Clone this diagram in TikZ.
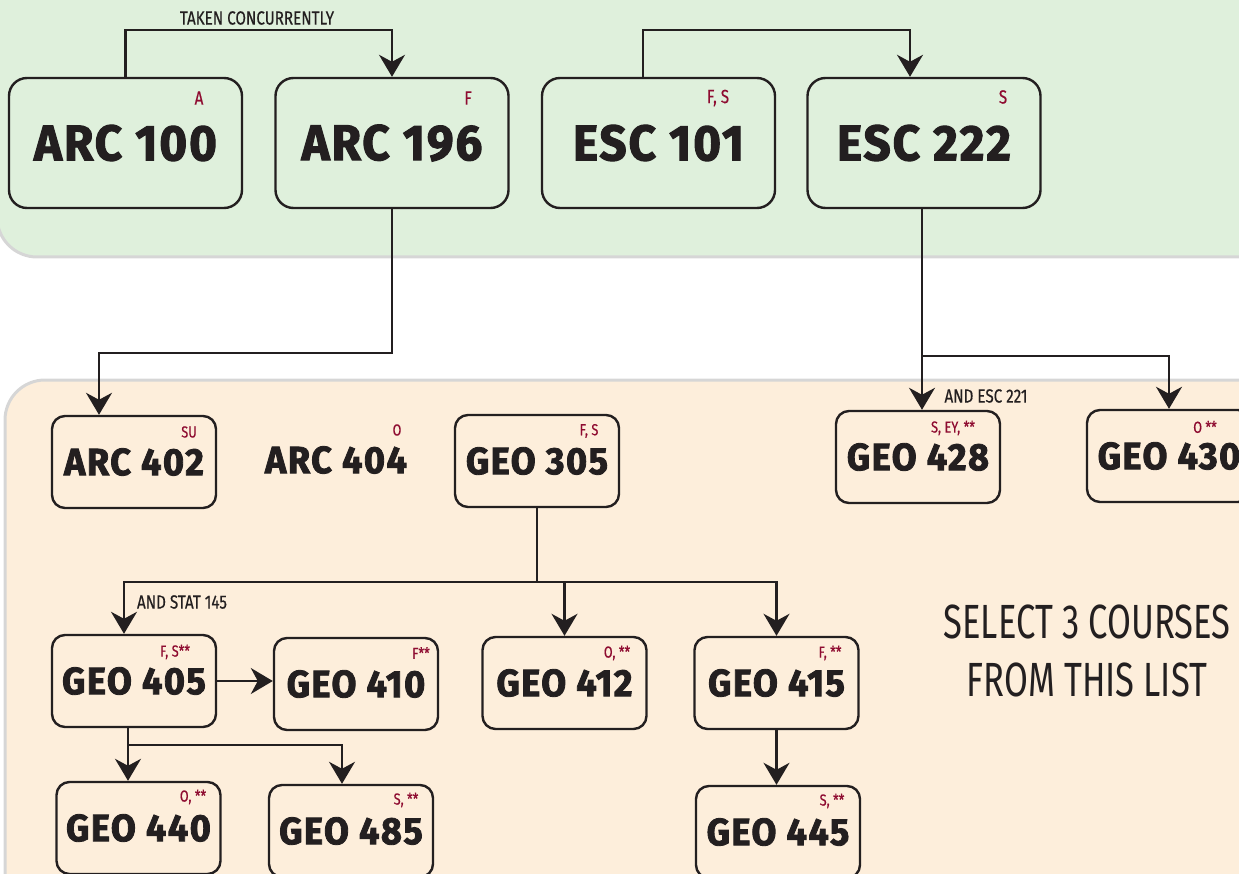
\documentclass[tikz,border=0pt]{standalone}
\usepackage{fontspec}
\newfontfamily\coursefont{Fira Sans}[FakeStretch=0.95, LetterSpace=4, BoldFeatures={FakeBold=2.2}]
\newfontfamily\notefont{Fira Sans}[FakeStretch=0.8, FakeBold=0.4]
\newfontfamily\listfont{Fira Sans}[FakeStretch=0.72]
\usetikzlibrary{arrows.meta}

\definecolor{panelgreen}{HTML}{DFF0DC}
\definecolor{panelorange}{HTML}{FDEEDB}
\definecolor{panelrim}{HTML}{D6D6D6}
\definecolor{termred}{HTML}{8E0B30}
\definecolor{ink}{HTML}{231F20}

\tikzset{
  bigcourse/.style={rectangle,
    draw = ink,
    line width = 2.4pt,
    rounded corners = 18pt,
    minimum width = 233pt,
    minimum height = 130pt,
    inner sep = 0pt,
    text = ink,
    font = \coursefont\bfseries\fontsize{50}{50}\selectfont},
  course/.style={rectangle,
    draw = ink,
    line width = 2.4pt,
    rounded corners = 13pt,
    minimum width = 164pt,
    minimum height = 92pt,
    inner sep = 0pt,
    text = ink,
    font = \coursefont\bfseries\fontsize{38}{38}\selectfont},
  term/.style={inner sep = 0pt, text = termred,
    font = \notefont\fontsize{16}{16}\selectfont},
  bigterm/.style={term, font = \notefont\fontsize{19}{19}\selectfont},
  note/.style={inner sep = 0pt, text = ink,
    font = \notefont\fontsize{19}{19}\selectfont},
  link/.style={draw = ink, line width = 2.2pt}
}

\begin{document}
\begin{tikzpicture}[x=1pt, y=-1pt, >={Stealth[length=22pt, width=26pt, inset=7pt]}]

  \useasboundingbox (0,0) rectangle (1239,874);

  % panels
  \path[fill = panelgreen, draw = panelrim, line width = 3pt, rounded corners = 40pt]
    (-3,-60) rectangle (1300,257);
  \path[fill = panelorange, draw = panelrim, line width = 3pt, rounded corners = 40pt]
    (5,380) rectangle (1300,950);

  % first year
  \node[bigcourse] (arc100) at (125.5,143) {ARC 100};
  \node[bigterm] (t100) at (199,98) {A};

  \node[bigcourse] (arc196) at (392,143) {ARC 196};
  \node[bigterm] (t196) at (468,98) {F};

  \node[bigcourse] (esc101) at (658.5,143) {ESC 101};
  \node[bigterm] (t101) at (718,98) {F, S};

  \node[bigcourse] (esc222) at (924,143) {ESC 222};
  \node[bigterm] (t222) at (1003,97) {S};

  \node[note] (taken) at (257,18) {TAKEN CONCURRENTLY};

  % electives
  \node[course] (arc402) at (134,462) {ARC 402};
  \node[term] (t402) at (189,432) {SU};

  \node[course, draw = none] (arc404) at (336,460) {ARC 404};
  \node[term] (t404) at (397,430) {O};

  \node[course] (geo305) at (537,461) {GEO 305};
  \node[term] (t305) at (589,431) {F, S};

  \node[course] (geo428) at (918,457) {GEO 428};
  \node[term] (t428) at (953,428) {S, EY, **};

  \node[course] (geo430) at (1169,456) {GEO 430};
  \node[term] (t430) at (1205,427) {O **};

  \node[course] (geo405) at (134,681) {GEO 405};
  \node[term] (t405) at (175,652) {F, S**};

  \node[course] (geo410) at (356,684) {GEO 410};
  \node[term] (t410) at (421,653) {F**};

  \node[course] (geo412) at (564.5,683) {GEO 412};
  \node[term] (t412) at (617,653) {O, **};

  \node[course] (geo415) at (776.5,683) {GEO 415};
  \node[term] (t415) at (830,653) {F, **};

  \node[course] (geo440) at (138.5,828) {GEO 440};
  \node[term] (t440) at (193,797) {O, **};

  \node[course] (geo485) at (351,831) {GEO 485};
  \node[term] (t485) at (406,800) {S, **};

  \node[course] (geo445) at (778,832) {GEO 445};
  \node[term] (t445) at (832,801) {S, **};

  \node[note] (andstat) at (182,602) {AND STAT 145};
  \node[note] (andesc) at (986,396) {AND ESC 221};

  \node[note, align = center, font = \listfont\fontsize{48}{58}\selectfont]
    (select) at (1087,651) {SELECT 3 COURSES\\FROM THIS LIST};

  % prerequisites
  \draw[link,->] (arc100.north) -- ++(0,-47) -| (arc196.north);
  \draw[link,->] ([xshift=-15.5pt]esc101.north) -- ++(0,-47) -| ([xshift=-14pt]esc222.north);
  \draw[link,->] (arc196.south) -- ++(0,144) -| ([xshift=-35pt]arc402.north);

  \draw[link] ([xshift=-2pt]esc222.south) -- ++(0,147) coordinate (fork222);
  \draw[link,->] (fork222) -- ([xshift=4pt]geo428.north);
  \draw[link,->] (fork222) -| (geo430.north);

  \draw[link] (geo305.south) -- ++(0,74) coordinate (fork305);
  \draw[link,->] (fork305) -| ([xshift=-10pt]geo405.north);
  \draw[link,->] (fork305) -| (geo412.north);
  \draw[link,->] (fork305) -| (geo415.north);

  \draw[link,->] (geo405.east) -- (geo405.east -| geo410.west);
  \draw[link] ([xshift=-6pt]geo405.south) -- ++(0,17) coordinate (fork405);
  \draw[link,->] (fork405) -- (fork405 |- geo440.north);
  \draw[link,->] (fork405) -| ([xshift=-9pt]geo485.north);
  \draw[link,->] (geo415.south) -- (geo415.south |- geo445.north);

\end{tikzpicture}
\end{document}
